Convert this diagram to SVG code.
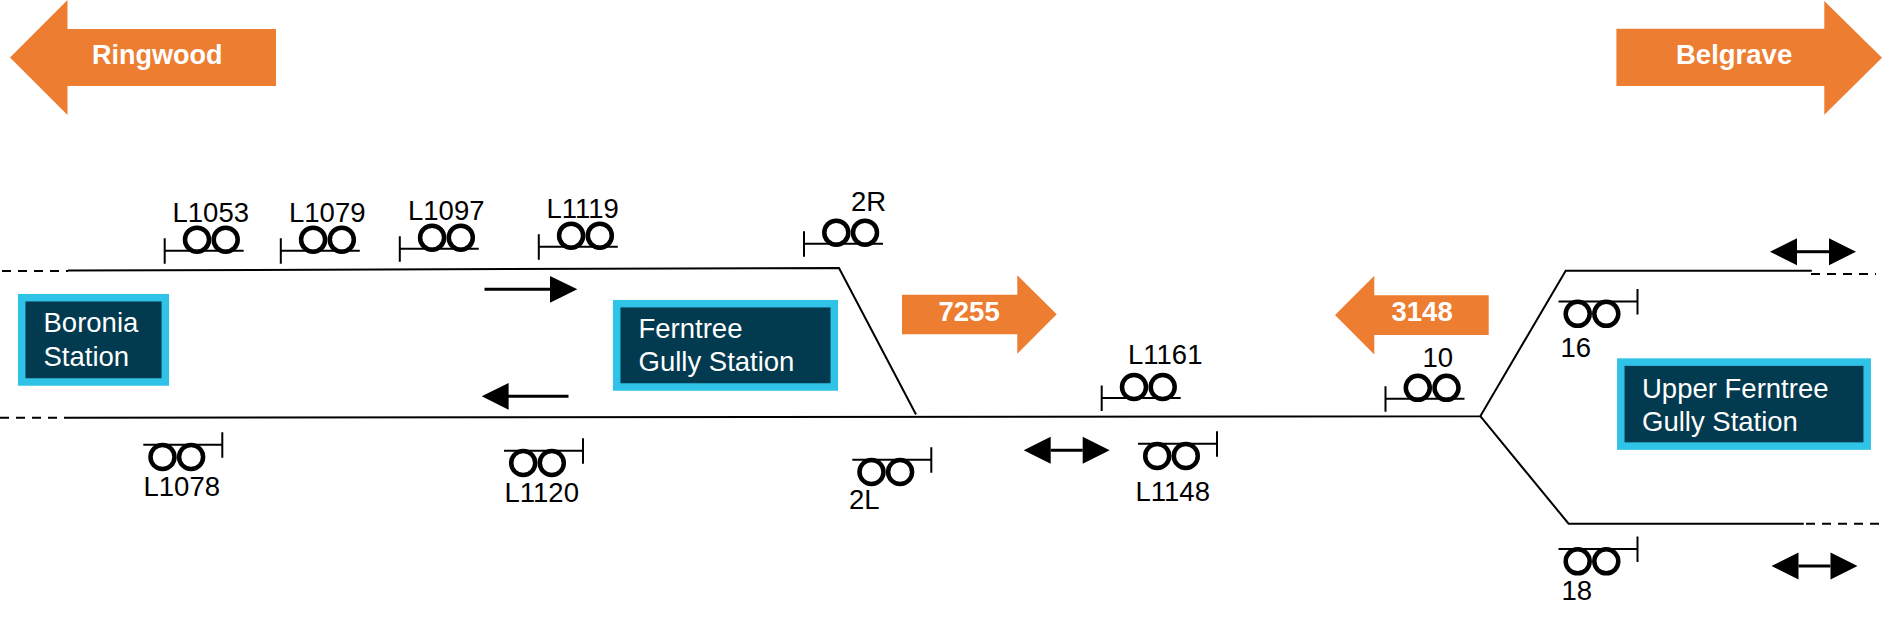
<svg xmlns="http://www.w3.org/2000/svg" xmlns:xlink="http://www.w3.org/1999/xlink" width="1886" height="623" viewBox="0 0 1886 623">
<style>
text{font-family:"Liberation Sans",Arial,sans-serif;font-size:27.5px}
.lab{fill:#000}
.st{fill:#fff}
.or{fill:#fff;font-weight:bold}
.arrow{fill:#ED7D31;stroke:none}
.box{fill:#023B50;stroke:#2FC3E8;stroke-width:7.5}
.trk{fill:none;stroke:#000;stroke-width:2}
.dash{fill:none;stroke:#000;stroke-width:2;stroke-dasharray:9 7}
.dir{stroke:#000;stroke-width:3;fill:none}
.head{fill:#000;stroke:none}
.sg{fill:none;stroke:#000;stroke-width:2}
.wh{fill:none;stroke:#000;stroke-width:4.5}
</style>
<defs>
<g id="sig-up">
<path class="sg" d="M0-12.5V13M0 0H79"/>
<circle class="wh" cx="32.3" cy="-11" r="12"/>
<circle class="wh" cx="61" cy="-11" r="12"/>
</g>
<g id="sig-down">
<path class="sg" d="M0-12.5V13M0 0H-79"/>
<circle class="wh" cx="-59.8" cy="12.3" r="12"/>
<circle class="wh" cx="-31.2" cy="12.3" r="12"/>
</g>
<g id="dir-both">
<path class="dir" d="M27 0H59"/>
<path class="head" d="M0 0L27-13.5V13.5Z"/>
<path class="head" d="M86 0L59-13.5V13.5Z"/>
</g>
</defs>
<g id="connectors">
<path class="dash" d="M2 271H68"/>
<path class="trk" d="M68 270.5L839 268L916 414.5"/>
<path class="dash" d="M0 417.7H65"/>
<path class="trk" d="M65 417.7L1480.3 416.2L1565.7 270.7H1811.8"/>
<path class="trk" d="M1480.3 416.2L1568.6 523.7H1803.8"/>
<path class="dash" d="M1811 274H1876"/>
<path class="dash" d="M1806 523.7H1879"/>
<g id="dir-right"><path class="dir" d="M484.5 289.3H551"/><path class="head" d="M577.3 289.3L550 275.9V302.7Z"/></g>
<g id="dir-left"><path class="dir" d="M508 396.3H568.5"/><path class="head" d="M481.7 396.3L508.6 382.9V409.7Z"/></g>
<use id="dir-mid" xlink:href="#dir-both" href="#dir-both" x="1023.7" y="450.3"/>
<use id="dir-top" xlink:href="#dir-both" href="#dir-both" x="1770" y="251.7"/>
<use id="dir-bottom" xlink:href="#dir-both" href="#dir-both" x="1771.5" y="566"/>
</g>
<g id="ringwood"><path class="arrow" d="M10 57.5L67.5 0V29H276V86H67.5V115Z"/><text class="or" x="92" y="63.5" style="font-size:27px">Ringwood</text></g>
<g id="belgrave"><path class="arrow" d="M1616.4 28.7H1824.3V1L1882 57.8L1824.3 114.7V86H1616.4Z"/><text class="or" x="1676" y="63.7">Belgrave</text></g>
<g id="flow-7255"><path class="arrow" d="M902 294.7H1017.3V275.3L1056.7 314.3L1017.3 353.7V334.3H902Z"/><text class="or" x="938.5" y="321">7255</text></g>
<g id="flow-3148"><path class="arrow" d="M1335 315L1374.3 275.7V295.2H1488.7V335H1374.3V354.6Z"/><text class="or" x="1391.5" y="321">3148</text></g>
<g id="boronia"><rect class="box" x="21.7" y="297.7" width="143.6" height="84.3"/><text class="st" x="43.5" y="332.3">Boronia</text><text class="st" x="43.5" y="365.7">Station</text></g>
<g id="ferntree"><rect class="box" x="616.7" y="303.7" width="217.6" height="83.3"/><text class="st" x="638.5" y="338.3">Ferntree</text><text class="st" x="638.5" y="371">Gully Station</text></g>
<g id="upper-ferntree"><rect class="box" x="1620.8" y="362.1" width="246.4" height="84"/><text class="st" x="1642" y="397.6">Upper Ferntree</text><text class="st" x="1642" y="431">Gully Station</text></g>
<g id="L1053"><use xlink:href="#sig-up" href="#sig-up" x="164.7" y="250.7"/><text class="lab" x="172.5" y="221.5">L1053</text></g>
<g id="L1079"><use xlink:href="#sig-up" href="#sig-up" x="280.8" y="250.7"/><text class="lab" x="289" y="221.5">L1079</text></g>
<g id="L1097"><use xlink:href="#sig-up" href="#sig-up" x="399.8" y="248.7"/><text class="lab" x="408" y="219.5">L1097</text></g>
<g id="L1119"><use xlink:href="#sig-up" href="#sig-up" x="538.8" y="246.7"/><text class="lab" x="546.5" y="218">L1119</text></g>
<g id="S2R"><use xlink:href="#sig-up" href="#sig-up" x="804" y="243.7"/><text class="lab" x="851" y="211.3">2R</text></g>
<g id="L1161"><use xlink:href="#sig-up" href="#sig-up" x="1101.7" y="398"/><text class="lab" x="1128" y="364">L1161</text></g>
<g id="S10"><use xlink:href="#sig-up" href="#sig-up" x="1385.5" y="398.8"/><text class="lab" x="1422.5" y="366.5">10</text></g>
<g id="L1078"><use xlink:href="#sig-down" href="#sig-down" x="222.3" y="444.7"/><text class="lab" x="143.5" y="496">L1078</text></g>
<g id="L1120"><use xlink:href="#sig-down" href="#sig-down" x="583" y="450.7"/><text class="lab" x="504.5" y="502">L1120</text></g>
<g id="S2L"><use xlink:href="#sig-down" href="#sig-down" x="931.3" y="459.7"/><text class="lab" x="849" y="509">2L</text></g>
<g id="L1148"><use xlink:href="#sig-down" href="#sig-down" x="1217" y="443.7"/><text class="lab" x="1135.5" y="500.5">L1148</text></g>
<g id="S16"><use xlink:href="#sig-down" href="#sig-down" x="1637.5" y="301.5"/><text class="lab" x="1560.5" y="357">16</text></g>
<g id="S18"><use xlink:href="#sig-down" href="#sig-down" x="1637.5" y="549"/><text class="lab" x="1561.5" y="600">18</text></g>
</svg>
